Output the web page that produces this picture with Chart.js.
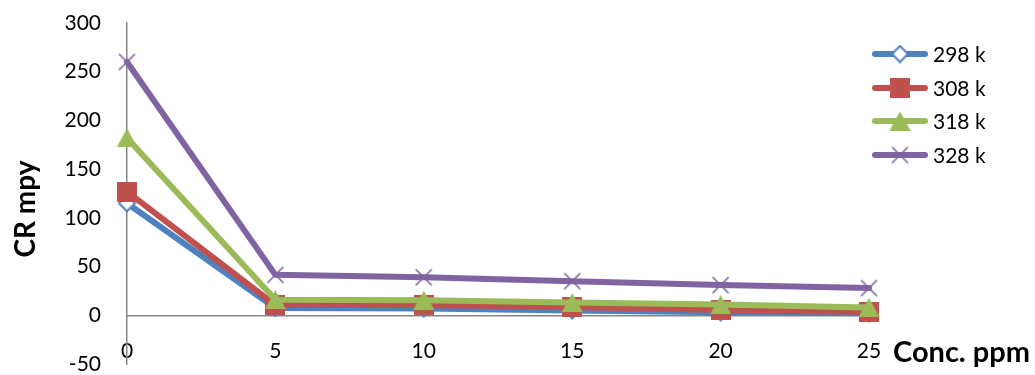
<!DOCTYPE html>
<html>
<head>
<meta charset="utf-8">
<script src="https://cdn.jsdelivr.net/npm/chart.js@4.4.1/dist/chart.umd.min.js"></script>
<style>
  html, body { margin: 0; padding: 0; background: #ffffff; }
  #wrap { width: 1035px; height: 375px; }
</style>
</head>
<body>
<div id="wrap"><canvas id="c" width="1035" height="375"></canvas></div>
<script>
// Corrosion rate (mpy) against inhibitor concentration (ppm) at four temperatures
const concentrations = ['0', '5', '10', '15', '20', '25'];
const seriesNames = ['298 k', '308 k', '318 k', '328 k'];
const cr298 = [115, 7.5, 7, 5, 3, 2];
const cr308 = [127, 10.5, 10.5, 8.5, 5.5, 3.5];
const cr318 = [182, 16, 15.5, 13, 11, 8];
const cr328 = [260, 41.5, 39, 35, 31, 28];
const yTicks = [-50, 0, 50, 100, 150, 200, 250, 300];
const yTitle = 'CR mpy';
const xTitle = 'Conc. ppm';

const colors = ['#4F81BD', '#C0504D', '#9BBB59', '#8064A2'];

// Marker sprites, each centred on its data point
function makeMarker(kind, color) {
  const c = document.createElement('canvas');
  const g = c.getContext('2d');
  if (kind === 'diamond') {
    c.width = 19; c.height = 19;
    g.beginPath();
    g.moveTo(9.5, 1.5); g.lineTo(17.5, 9.5); g.lineTo(9.5, 17.5); g.lineTo(1.5, 9.5);
    g.closePath();
    g.fillStyle = '#ffffff'; g.fill();
    g.lineWidth = 2; g.strokeStyle = color; g.stroke();
  } else if (kind === 'square') {
    c.width = 20; c.height = 20;
    g.fillStyle = color; g.fillRect(0, 0, 20, 20);
  } else if (kind === 'triangle') {
    c.width = 21; c.height = 19;
    g.beginPath();
    g.moveTo(10.5, 0); g.lineTo(21, 19); g.lineTo(0, 19);
    g.closePath();
    g.fillStyle = color; g.fill();
  } else {
    c.width = 19; c.height = 19;
    g.beginPath();
    g.moveTo(1.5, 1.5); g.lineTo(17.5, 17.5);
    g.moveTo(17.5, 1.5); g.lineTo(1.5, 17.5);
    g.lineWidth = 1.7; g.strokeStyle = color; g.stroke();
  }
  return c;
}

const markers = [
  makeMarker('diamond', colors[0]),
  makeMarker('square', colors[1]),
  makeMarker('triangle', colors[2]),
  makeMarker('cross', colors[3])
];

const seriesData = [cr298, cr308, cr318, cr328];

const datasets = seriesData.map((d, i) => ({
  label: seriesNames[i],
  data: d,
  borderColor: colors[i],
  backgroundColor: colors[i],
  borderWidth: 6,
  borderJoinStyle: 'round',
  borderCapStyle: 'round',
  pointStyle: markers[i],
  pointRadius: 10,
  pointHoverRadius: 10,
  pointBorderWidth: 0,
  tension: 0,
  clip: false,
  order: seriesNames.length - i
}));

const tickFont = { family: 'Lato', size: 21 };

// Axis titles and legend, drawn over the plot
const decorations = {
  id: 'decorations',
  afterDraw(chart) {
    const ctx = chart.ctx;
    ctx.save();
    ctx.fillStyle = '#000000';
    ctx.textBaseline = 'alphabetic';

    // y title, rotated
    ctx.save();
    ctx.font = 'bold 28px Lato';
    ctx.translate(35, 209);
    ctx.rotate(-Math.PI / 2);
    ctx.textAlign = 'center';
    ctx.fillText(yTitle, 0, 0);
    ctx.restore();

    // x title, right of the last category label
    ctx.font = 'bold 29px Lato';
    ctx.textAlign = 'left';
    ctx.fillText(xTitle, 893, 362);

    // legend
    const rowY = [54, 88, 121, 155];
    ctx.font = '21px Lato';
    ctx.textBaseline = 'middle';
    seriesNames.forEach((name, i) => {
      const y = rowY[i];
      ctx.beginPath();
      ctx.moveTo(875, y);
      ctx.lineTo(925, y);
      ctx.lineWidth = 6;
      ctx.lineCap = 'round';
      ctx.strokeStyle = colors[i];
      ctx.stroke();
      const m = markers[i];
      ctx.drawImage(m, 900 - m.width / 2, y - m.height / 2);
      ctx.fillStyle = '#000000';
      ctx.fillText(name, 933, y + 1);
    });
    ctx.restore();
  }
};

new Chart(document.getElementById('c'), {
  type: 'line',
  data: { labels: concentrations, datasets: datasets },
  options: {
    responsive: false,
    animation: false,
    devicePixelRatio: 1,
    layout: { autoPadding: false, padding: { left: 0, top: 23, right: 166, bottom: 11 } },
    plugins: { legend: { display: false }, tooltip: { enabled: false } },
    scales: {
      x: {
        type: 'category',
        offset: false,
        position: { y: 0 },
        grid: { color: 'transparent', drawTicks: false },
        border: { display: true, color: '#868686', width: 1.5 },
        ticks: { font: tickFont, color: '#000000', padding: 23, maxRotation: 0, autoSkip: false },
        afterFit(scale) { scale.paddingLeft = 0; scale.paddingRight = 0; }
      },
      y: {
        min: yTicks[0],
        max: yTicks[yTicks.length - 1],
        afterBuildTicks(scale) { scale.ticks = yTicks.map(v => ({ value: v })); },
        grid: { color: 'transparent', drawTicks: false },
        border: { display: true, color: '#868686', width: 1.5 },
        ticks: { font: tickFont, color: '#000000', padding: 26 },
        afterFit(scale) { scale.width = 127; scale.paddingTop = 0; scale.paddingBottom = 0; }
      }
    }
  },
  plugins: [decorations]
});
</script>
</body>
</html>
